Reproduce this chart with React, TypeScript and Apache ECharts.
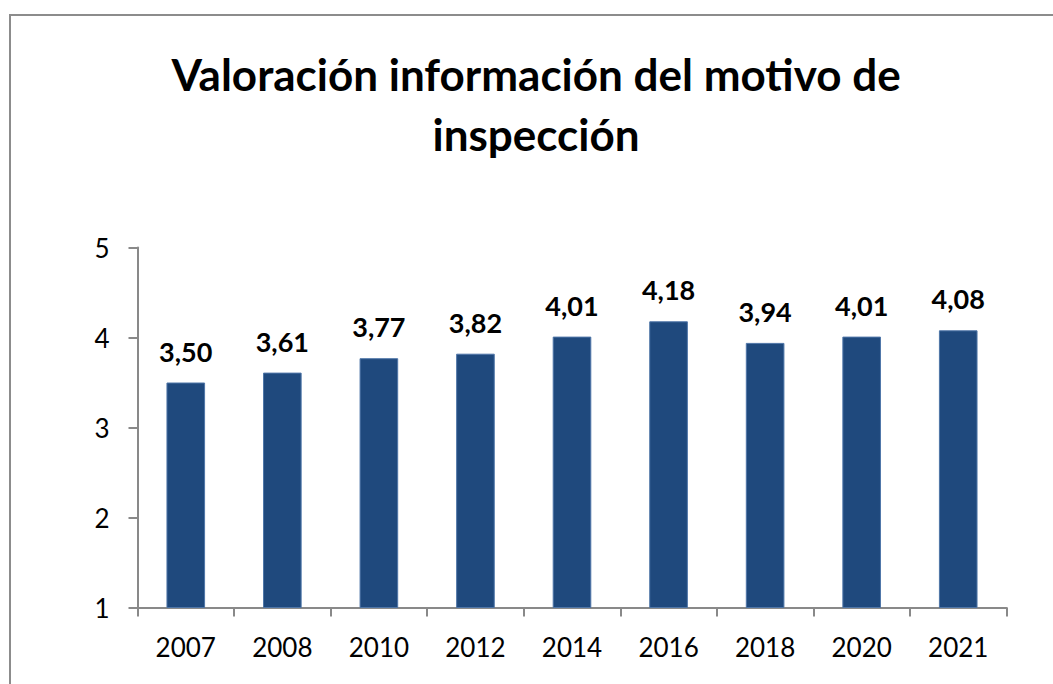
import React, { useEffect, useRef } from "react";
import * as echarts from "echarts";

const categories = ["2007", "2008", "2010", "2012", "2014", "2016", "2018", "2020", "2021"];
const values = [3.5, 3.61, 3.77, 3.82, 4.01, 4.18, 3.94, 4.01, 4.08];
const titleLines = ["Valoración información del motivo de", "inspección"];

const FONT = "Lato, 'Open Sans', sans-serif";

export default function App() {
  const ref = useRef<HTMLDivElement>(null);
  useEffect(() => {
    if (!ref.current) return;
    const chart = echarts.init(ref.current, null, { renderer: "svg" });
    chart.setOption({
      animation: false,
      backgroundColor: "#ffffff",
      graphic: [
        {
          type: "rect",
          shape: { x: 10, y: 15, width: 1100, height: 700 },
          style: { fill: "none", stroke: "#8c8c8c", lineWidth: 2 },
          silent: true,
        },
      ],
      title: {
        text: titleLines.join("\n"),
        left: 531,
        textAlign: "center",
        top: 39,
        textStyle: {
          fontFamily: FONT,
          fontWeight: "bold",
          fontSize: 44,
          lineHeight: 60,
          color: "#000",
        },
      },
      grid: { left: 137.5, right: 46.5, top: 247.5, bottom: 76.5 },
      xAxis: {
        type: "category",
        data: categories,
        axisLine: { lineStyle: { color: "#898989", width: 2 } },
        axisTick: { show: true, length: 9, lineStyle: { color: "#898989", width: 2 } },
        axisLabel: { color: "#000", fontFamily: FONT, fontSize: 26, margin: 26 },
      },
      yAxis: {
        type: "value",
        min: 1,
        max: 5,
        interval: 1,
        splitLine: { show: false },
        axisLine: { show: true, lineStyle: { color: "#898989", width: 2 } },
        axisTick: { show: true, length: 9, lineStyle: { color: "#898989", width: 2 } },
        axisLabel: { color: "#000", fontFamily: FONT, fontSize: 26, margin: 28 },
      },
      series: [
        {
          type: "bar",
          data: values,
          barWidth: "40%",
          itemStyle: { color: "#1f497d", borderColor: "#4f76a8", borderWidth: 1 },
          label: {
            show: true,
            position: "top",
            distance: 18,
            fontFamily: FONT,
            fontWeight: "bold",
            fontSize: 27,
            color: "#000",
            formatter: (p: any) => Number(p.value).toFixed(2).replace(".", ","),
          },
        },
      ],
    });
    return () => chart.dispose();
  }, []);
  return (
    <div
      ref={ref}
      style={{ position: "fixed", left: 0, top: 0, width: 1053, height: 684 }}
    />
  );
}
